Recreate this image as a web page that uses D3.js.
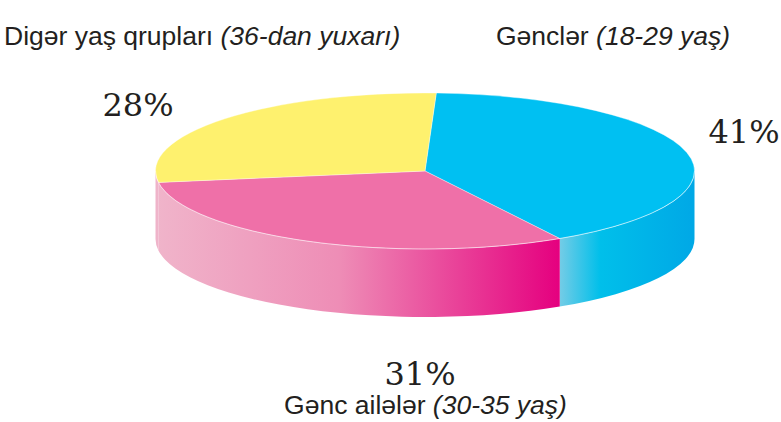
<!DOCTYPE html>
<html>
<head>
<meta charset="utf-8">
<script src="https://cdn.jsdelivr.net/npm/d3@7"></script>
<style>
  body { margin: 0; background: #fff; }
  svg { display: block; }
</style>
</head>
<body>
<script>
// Data
const groups = ["Gənclər", "Gənc ailələr", "Digər yaş qrupları"];
const ranges = ["18-29 yaş", "30-35 yaş", "36-dan yuxarı"];
const shares = [41, 31, 28];

const width = 781, height = 422;
const cx = 425, cy = 171, rx = 269.5, ry = 78, depth = 68;

const topColors = ["#00c0f2", "#ef70a8", "#fef16e"];
const sideStops = [
  [["0%", "#74cce6"], ["30%", "#00bfea"], ["100%", "#00a8e6"]],
  [["0%", "#f0b4ca"], ["45%", "#ee8db6"], ["100%", "#e5007f"]],
  [["0%", "#efb4ca"], ["100%", "#efb4ca"]]
];

const svg = d3.select("body").append("svg")
    .attr("width", width)
    .attr("height", height);

const start = 2.4 * Math.PI / 180;
const pie = d3.pie().sort(null)
    .startAngle(start)
    .endAngle(start + 2 * Math.PI);
const arcs = pie(shares);

const pt = (a, dy = 0) => [cx + rx * Math.sin(a), cy - ry * Math.cos(a) + dy];

// side faces (only front half is visible)
const defs = svg.append("defs");
arcs.forEach((d, i) => {
  const a0 = Math.max(d.startAngle, Math.PI / 2),
        a1 = Math.min(d.endAngle, 3 * Math.PI / 2);
  if (a1 <= a0) return;
  const p0 = pt(a0), p1 = pt(a1);
  const xs = [p0[0], p1[0]];
  const g = defs.append("linearGradient")
      .attr("id", "side" + i)
      .attr("gradientUnits", "userSpaceOnUse")
      .attr("x1", d3.min(xs)).attr("x2", d3.max(xs))
      .attr("y1", 0).attr("y2", 0);
  g.selectAll("stop").data(sideStops[i]).enter().append("stop")
      .attr("offset", s => s[0]).attr("stop-color", s => s[1]);
  const b0 = pt(a0, depth), b1 = pt(a1, depth);
  const path = `M${p0}A${rx},${ry} 0 0 1 ${p1}L${b1}A${rx},${ry} 0 0 0 ${b0}Z`;
  svg.append("path").attr("d", path).attr("fill", `url(#side${i})`);
});

// top faces
svg.selectAll(".top")
  .data(arcs)
  .enter().append("path")
    .attr("class", "top")
    .attr("d", d => {
      const p0 = pt(d.startAngle), p1 = pt(d.endAngle);
      const large = d.endAngle - d.startAngle > Math.PI ? 1 : 0;
      return `M${cx},${cy}L${p0}A${rx},${ry} 0 ${large} 1 ${p1}Z`;
    })
    .attr("fill", (d, i) => topColors[i])
    .attr("stroke", "#fff")
    .attr("stroke-opacity", 0.5)
    .attr("stroke-width", 0.7);

// front rim highlight
svg.append("path")
    .attr("d", `M${pt(Math.PI / 2)}A${rx},${ry} 0 0 1 ${pt(3 * Math.PI / 2)}`)
    .attr("fill", "none")
    .attr("stroke", "#fff")
    .attr("stroke-opacity", 0.45)
    .attr("stroke-width", 0.8);

// percentage labels
const pctPos = [[744, 143], [420, 385], [138, 116]];
svg.selectAll(".pct")
  .data(shares)
  .enter().append("text")
    .attr("class", "pct")
    .attr("x", (d, i) => pctPos[i][0])
    .attr("y", (d, i) => pctPos[i][1])
    .attr("text-anchor", "middle")
    .style("font-family", "'DejaVu Serif', serif")
    .style("font-size", "32px")
    .style("fill", "#231f20")
    .text(d => d + "%");

// group labels
const namePos = [[613, 45, "middle"], [425.5, 414, "middle"], [4, 45, "start"]];
const names = svg.selectAll(".name")
  .data(groups)
  .enter().append("text")
    .attr("class", "name")
    .attr("x", (d, i) => namePos[i][0])
    .attr("y", (d, i) => namePos[i][1])
    .attr("text-anchor", (d, i) => namePos[i][2])
    .style("font-family", "'Liberation Sans', Arial, sans-serif")
    .style("font-size", "26.5px")
    .style("fill", "#231f20");
names.append("tspan").text(d => d + " ");
names.append("tspan").style("font-style", "italic").text((d, i) => "(" + ranges[i] + ")");
</script>
</body>
</html>
